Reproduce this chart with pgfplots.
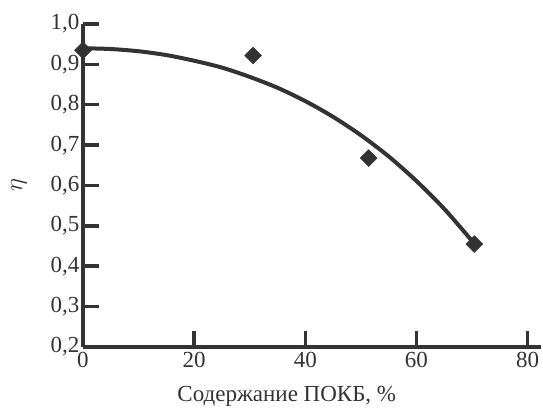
\documentclass[border=0pt]{standalone}
\usepackage{fontspec}
\setmainfont{Liberation Serif}
\usepackage{pgfplots}
\pgfplotsset{compat=1.18}
\definecolor{ink}{HTML}{333333}
\begin{document}
\begin{tikzpicture}
\begin{axis}[
  scale only axis,
  width=458pt, height=323pt,
  xmin=0, xmax=82.4, ymin=0.2, ymax=1.0,
  axis lines*=left,
  axis line style={ink, line width=4pt},
  every outer x axis line/.append style={-},
  every outer y axis line/.append style={-},
  xtick={0,20,40,60,80},
  ytick={0.2,0.3,...,1.0},
  tick style={ink, line width=3.5pt},
  tick align=inside,
  major tick length=16pt,
  /pgf/number format/assume math mode=true,
  yticklabel style={/pgf/number format/.cd, fixed, fixed zerofill, precision=1, use comma},
  ticklabel style={font=\fontsize{23}{26}\selectfont, text=ink},
  xticklabel style={yshift=-2pt},
  xlabel={Содержание ПОКБ, \%},
  ylabel={$\eta$},
  label style={font=\fontsize{23}{26}\selectfont, text=ink},
  xlabel style={at={(axis description cs:0.445,0)}, anchor=north, yshift=-36pt},
  ylabel style={at={(axis description cs:-0.14,0.5)}, anchor=center},
  clip=false,
]
\addplot[ink, line width=4pt, smooth, tension=0.5] coordinates {
  (0,0.940) (5,0.938) (10,0.9325) (15,0.923) (20,0.909) (25,0.892)
  (30,0.869) (35,0.842) (40,0.809) (45,0.770) (50,0.7245) (55,0.672)
  (60,0.611) (65,0.542) (70.1,0.461)
};
\addplot[only marks, mark=square*, mark size=6pt, mark options={rotate=45, ink, fill=ink}] coordinates {
  (0,0.935) (30.6,0.922) (51.4,0.668) (70.4,0.455)
};
\end{axis}
\path[use as bounding box] (-83pt,-65pt) rectangle (460pt,347pt);
\end{tikzpicture}
\end{document}
